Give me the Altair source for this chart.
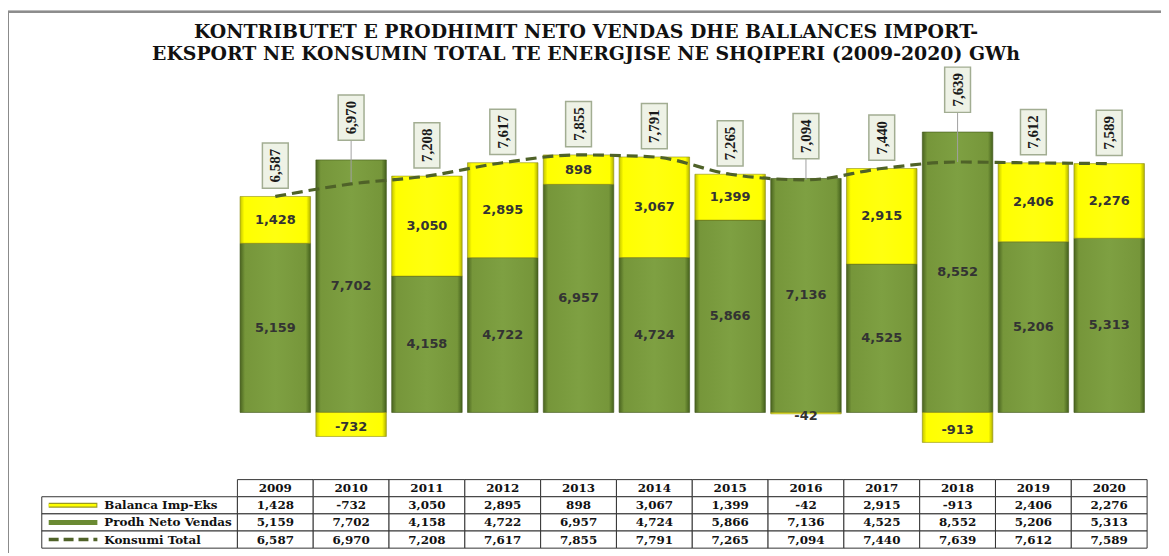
import altair as alt
import pandas as pd

years = [str(y) for y in range(2009, 2021)]
balanca = [1428, -732, 3050, 2895, 898, 3067, 1399, -42, 2915, -913, 2406, 2276]
prodh = [5159, 7702, 4158, 4722, 6957, 4724, 5866, 7136, 4525, 8552, 5206, 5313]
konsumi = [6587, 6970, 7208, 7617, 7855, 7791, 7265, 7094, 7440, 7639, 7612, 7589]
row_names = ["Balanca Imp-Eks", "Prodh Neto Vendas", "Konsumi Total"]
title_lines = [
    "KONTRIBUTET E PRODHIMIT NETO VENDAS DHE BALLANCES IMPORT-",
    "EKSPORT NE KONSUMIN TOTAL TE ENERGJISE NE SHQIPERI (2009-2020) GWh",
]

fmt = lambda v: f"{v:,}"
df = pd.DataFrame({
    "year": years, "bal": balanca, "prodh": prodh, "kons": konsumi,
    "bal_t": [fmt(v) for v in balanca],
    "prodh_t": [fmt(v) for v in prodh],
    "kons_t": [fmt(v) for v in konsumi],
})

# table data (long form)
rows_all = ["hdr"] + row_names
trows = []
for i, y in enumerate(years):
    trows.append({"year": y, "row": "hdr", "txt": y})
    trows.append({"year": y, "row": row_names[0], "txt": fmt(balanca[i])})
    trows.append({"year": y, "row": row_names[1], "txt": fmt(prodh[i])})
    trows.append({"year": y, "row": row_names[2], "txt": fmt(konsumi[i])})
tdf = pd.DataFrame(trows)
ldf = pd.DataFrame({"row": row_names})
ttl = pd.DataFrame({"line": [0, 1], "txt": title_lines})

W, H = 916, 483
DARK = "#4F6228"

yscale = alt.Scale(domain=[-1200, 10400], range=[383, 0], nice=False, zero=False)
X = alt.X("year:N", sort=years, axis=None,
          scale=alt.Scale(paddingInner=0.07, paddingOuter=0.035))

green_grad = alt.Gradient(
    gradient="linear", x1=0, x2=1, y1=0, y2=0,
    stops=[
        alt.GradientStop(color="#4A6420", offset=0),
        alt.GradientStop(color="#76963A", offset=0.07),
        alt.GradientStop(color="#7EA042", offset=0.5),
        alt.GradientStop(color="#76963A", offset=0.93),
        alt.GradientStop(color="#44601C", offset=1),
    ],
)
yellow_grad = alt.Gradient(
    gradient="linear", x1=0, x2=1, y1=0, y2=0,
    stops=[
        alt.GradientStop(color="#C4C400", offset=0),
        alt.GradientStop(color="#FFFF00", offset=0.06),
        alt.GradientStop(color="#FFFF10", offset=0.5),
        alt.GradientStop(color="#FFFF00", offset=0.94),
        alt.GradientStop(color="#B0B000", offset=1),
    ],
)

base = alt.Chart(df).transform_calculate(
    z="0",
    ylo="datum.bal >= 0 ? datum.prodh : 0",
    yhi="datum.bal >= 0 ? datum.prodh + datum.bal : datum.bal",
    ymid="datum.bal >= 0 ? datum.prodh + datum.bal / 2 : datum.bal / 2 - 80",
    gmid="datum.prodh / 2",
    boxlo="datum.prodh > datum.kons ? datum.prodh + 600 : datum.kons + 250",
).transform_calculate(
    boxhi="datum.boxlo + 1380",
    boxmid="datum.boxlo + 690",
)

green = base.mark_bar(color=green_grad, stroke="#3E5418", strokeWidth=0.6).encode(
    x=X, y=alt.Y("z:Q", scale=yscale, axis=None), y2="prodh:Q")
yellow = base.mark_bar(color=yellow_grad, stroke="#8C8C14", strokeWidth=0.6).encode(
    x=X, y=alt.Y("ylo:Q", scale=yscale, axis=None), y2="yhi:Q")
lblfont = dict(font="DejaVu Sans", fontWeight="bold", fontSize=13, color="#333333")
gtext = base.mark_text(**lblfont).encode(
    x=X, y=alt.Y("gmid:Q", scale=yscale, axis=None), text="prodh_t:N")
ytext = base.mark_text(**lblfont).encode(
    x=X, y=alt.Y("ymid:Q", scale=yscale, axis=None), text="bal_t:N")
leader = base.mark_rule(color="#A0A0A0", strokeWidth=1).transform_filter(
    "datum.prodh > datum.kons").encode(
    x=X, y=alt.Y("kons:Q", scale=yscale, axis=None), y2="boxlo:Q")
line = base.mark_line(color=DARK, strokeWidth=3.2, strokeDash=[11, 6],
                      interpolate="monotone").encode(
    x=X, y=alt.Y("kons:Q", scale=yscale, axis=None))
box = base.mark_bar(size=26, fill="#EEF2E6", stroke="#A2AD92", strokeWidth=1.5).encode(
    x=X, y=alt.Y("boxlo:Q", scale=yscale, axis=None), y2="boxhi:Q")
boxtext = base.mark_text(angle=270, font="Liberation Serif", fontSize=15,
                         fontWeight="bold", color="#1A1A1A").encode(
    x=X, y=alt.Y("boxmid:Q", scale=yscale, axis=None), text="kons_t:N")

top = alt.layer(green, yellow, gtext, ytext, leader, line, box, boxtext)

# ---- table ----
TX = alt.X("year:N", sort=years, axis=None,
           scale=alt.Scale(paddingInner=0, paddingOuter=0))
tys = alt.Scale(domain=rows_all, range=[411, 480], paddingInner=0, paddingOuter=0)
TY = alt.Y("row:N", sort=rows_all, scale=tys, axis=None)
tfont = dict(font="DejaVu Serif", fontWeight="bold", fontSize=12, color="#111111")

tbase = alt.Chart(tdf)
cells = tbase.mark_rect(fill="white", stroke="#333333", strokeWidth=1).encode(x=TX, y=TY)
celltext = tbase.mark_text(**tfont).encode(x=TX, y=TY, text="txt:N")

lbase = alt.Chart(ldf)
lcells = lbase.mark_rect(fill="white", stroke="#333333", strokeWidth=1).encode(
    x=alt.value(-197), x2=alt.value(0), y=TY)
ltext = lbase.mark_text(align="left", **tfont).encode(
    x=alt.value(-134), y=TY, text="row:N")
sw1a = lbase.transform_filter(alt.datum.row == row_names[0]).mark_rule(
    color="#9A9A20", strokeWidth=5).encode(x=alt.value(-190), x2=alt.value(-141), y=TY)
sw1b = lbase.transform_filter(alt.datum.row == row_names[0]).mark_rule(
    color="#FFFF00", strokeWidth=2.5).encode(x=alt.value(-190), x2=alt.value(-142), y=TY)
sw2 = lbase.transform_filter(alt.datum.row == row_names[1]).mark_rule(
    color="#6A8A32", strokeWidth=5).encode(x=alt.value(-190), x2=alt.value(-141), y=TY)
sw3 = lbase.transform_filter(alt.datum.row == row_names[2]).mark_rule(
    color=DARK, strokeWidth=3.5, strokeDash=[10, 5]).encode(
    x=alt.value(-190), x2=alt.value(-141), y=TY)

frame_left = lbase.mark_rule(color="#8C8C8C", strokeWidth=2).encode(
    x=alt.value(-231), y=alt.value(-60), y2=alt.value(H + 10))
frame_top = lbase.mark_rule(color="#8C8C8C", strokeWidth=2).encode(
    x=alt.value(-231), x2=alt.value(W + 20), y=alt.value(-60))

tbs = alt.Chart(ttl)
title = tbs.mark_text(font="DejaVu Serif", fontWeight="bold", fontSize=19,
                      color="#111111", align="center", baseline="middle").encode(
    x=alt.value(351),
    y=alt.Y("line:Q", scale=alt.Scale(domain=[0, 1], range=[-40, -18], zero=False,
                                      nice=False), axis=None),
    text="txt:N")

table = alt.layer(frame_left, frame_top, lcells, sw1a, sw1b, sw2, sw3, ltext, cells,
                  celltext, title).resolve_scale(y="independent")

chart = alt.layer(top, table).resolve_scale(x="independent", y="independent").properties(
    width=W, height=H,
    autosize=alt.AutoSizeParams(type="none"),
    padding={"left": 231, "top": 62, "right": 14, "bottom": 0},
    view=alt.ViewBackground(stroke="transparent", strokeWidth=0),
).configure_view(strokeWidth=0, stroke="transparent", strokeOpacity=0).configure(
    background="white")

chart.save("out.html", embed_options={"renderer": "svg", "actions": False})
